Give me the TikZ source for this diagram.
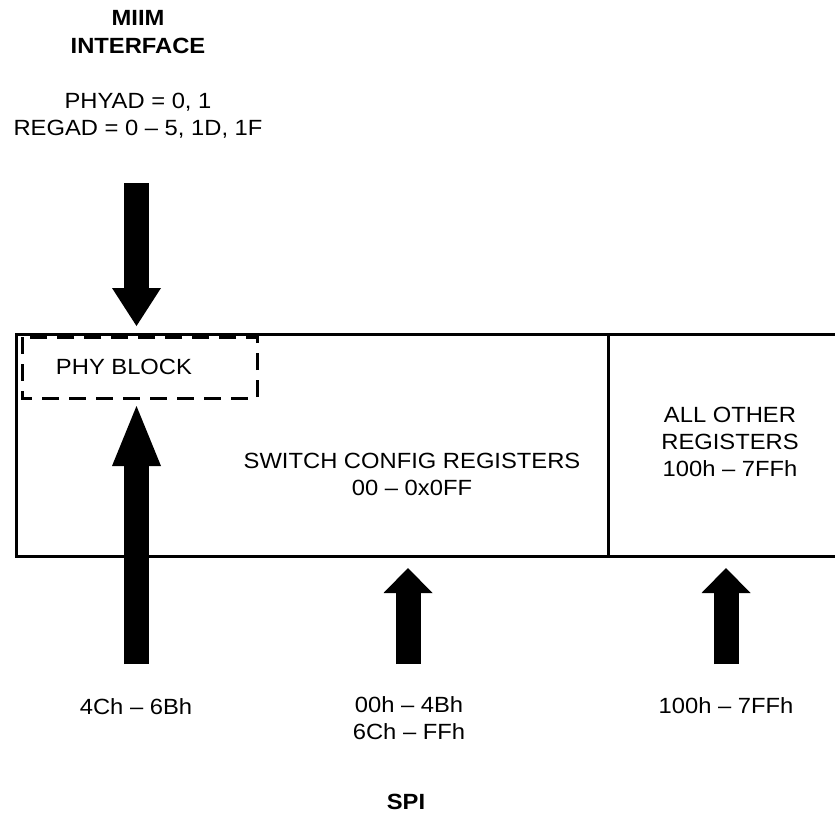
\documentclass[tikz,border=0pt]{standalone}
\usepackage{fontspec}
\setmainfont{Liberation Sans}
\newfontfamily\widefont{Liberation Sans}[FakeStretch=1.08,Ligatures=TeX]
\usetikzlibrary{arrows.meta}
\begin{document}
\begin{tikzpicture}[x=1pt,y=-1pt,
  lbl/.style={font=\widefont\fontsize{22}{27}\selectfont, align=center, inner sep=0pt},
  boldlbl/.style={font=\widefont\fontsize{22}{28}\selectfont\bfseries, align=center, inner sep=0pt},
  blk/.style={line width=25pt, -{Triangle[width=49pt,length=#1,line width=0pt]}},
  boxline/.style={line width=3pt, line join=miter},
  dashbox/.style={line width=3pt, dash pattern=on 17pt off 10pt}
]
\useasboundingbox (0,0) rectangle (835,816);

% labels
\node[boldlbl] (miim) at (138,32) {MIIM\\INTERFACE};
\node[lbl] (phyad) at (138,116) {PHYAD = 0, 1\\REGAD = 0 -- 5, 1D, 1F};
\node[lbl] (phy) at (124,367) {PHY BLOCK};
\node[lbl] (sw) at (412,474.5) {SWITCH CONFIG REGISTERS\\00 -- 0x0FF};
\node[lbl] (other) at (730,442) {ALL OTHER\\REGISTERS\\100h -- 7FFh};
\node[lbl] (r1) at (136,707) {4Ch -- 6Bh};
\node[lbl] (r2) at (409,718) {00h -- 4Bh\\6Ch -- FFh};
\node[lbl] (r3) at (726,706) {100h -- 7FFh};
\node[boldlbl] (spi) at (406,802) {SPI};

% main register box (right side open, runs off the page)
\coordinate (bTR) at (836,334);
\coordinate (bTL) at (16,334);
\coordinate (bBL) at (16,556);
\coordinate (bBR) at (836,556);
\draw[boxline] (bTR) -- (bTL) -- (bBL) -- (bBR);
\coordinate (dT) at (608,334);
\coordinate (dB) at (608,556);
\draw[boxline] (dT) -- (dB);

% PHY block
\coordinate (pTL) at (22,337);
\coordinate (pBR) at (257,398);
\draw[dashbox] (pTL) rectangle (pBR);

% block arrows
\coordinate (a1s) at (136.5,183); \coordinate (a1e) at (136.5,326);
\draw[blk=38pt] (a1s) -- (a1e);
\coordinate (a2s) at (136.5,664); \coordinate (a2e) at (136.5,406);
\draw[blk=60pt] (a2s) -- (a2e);
\coordinate (a3s) at (408,664); \coordinate (a3e) at (408,568);
\draw[blk=25pt] (a3s) -- (a3e);
\coordinate (a4s) at (726,664); \coordinate (a4e) at (726,568);
\draw[blk=25pt] (a4s) -- (a4e);
\end{tikzpicture}
\end{document}
